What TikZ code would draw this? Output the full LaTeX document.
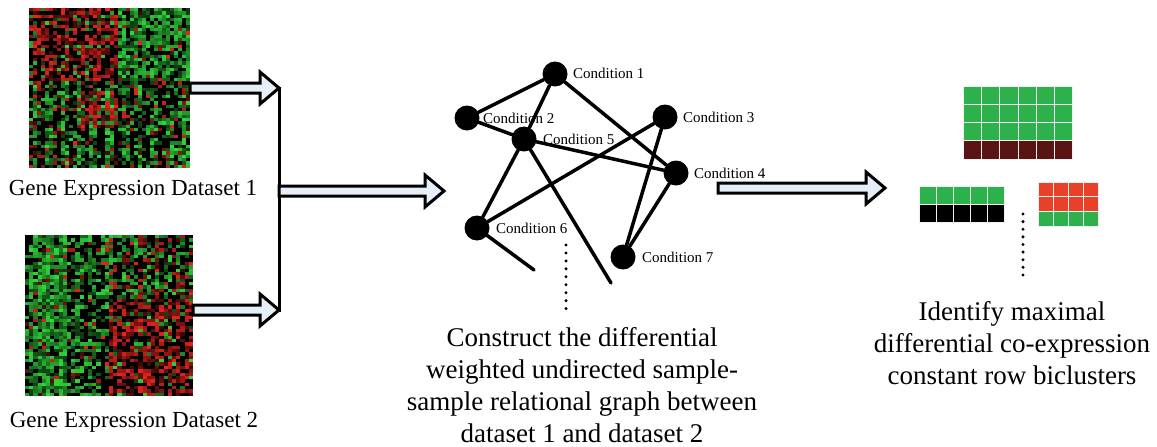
\documentclass[tikz,border=0pt]{standalone}
\usepackage{fontspec}
\setmainfont{Liberation Serif}
\usetikzlibrary{calc}

\definecolor{hmred}{RGB}{235,35,30}
\definecolor{hmgreen}{RGB}{50,215,60}
\definecolor{arrowfill}{RGB}{230,238,248}
\definecolor{bcgreen}{RGB}{45,178,75}
\definecolor{bcdark}{RGB}{90,20,20}
\definecolor{bcred}{RGB}{232,65,40}

% heatmap: x0, y0, width, height, P(red), P(red or green); 40 x 48 cells
\newcommand\heatmap[6]{%
  \fill[black] (#1,#2) rectangle ++(#3,#4);
  \foreach \i in {0,...,39}{
    \foreach \j in {0,...,47}{
      \pgfmathsetmacro\pr{#5}
      \pgfmathsetmacro\pg{#6}
      \pgfmathsetmacro\u{rnd}
      \pgfmathsetmacro\k{int(25+75*rnd)}
      \ifdim\u pt<\pr pt
        \fill[hmred!\k!black] ({#1+\i*#3/40},{#2+\j*#4/48}) rectangle ++({#3/40},{#4/48});
      \else\ifdim\u pt<\pg pt
        \fill[hmgreen!\k!black] ({#1+\i*#3/40},{#2+\j*#4/48}) rectangle ++({#3/40},{#4/48});
      \fi\fi
    }
  }
}

% bicluster: x0, y0, columns, cell width, cell height, row colours
\newcommand\bicluster[6]{%
  \foreach \rowcol [count=\rowno from 0] in {#6}{
    \foreach \q in {1,...,#3}{
      \fill[\rowcol, draw=white!88!gray, line width=1]
        ({#1+(\q-1)*#4},{#2+\rowno*#5}) rectangle ++(#4,#5);
    }
  }
}

% hollow block arrow between two points on one height
\newcommand\fatarrow[2]{%
  \path[fatarrow] let \p1=(#1), \p2=(#2) in
    (\x1,\y1+5pt) -- (\x2-19pt,\y1+5pt) -- (\x2-19pt,\y1+16pt)
    -- (\x2,\y1) -- (\x2-19pt,\y1-16pt) -- (\x2-19pt,\y1-5pt)
    -- (\x1,\y1-5pt) -- cycle;
}

\tikzset{
  fatarrow/.style={draw=black, line width=3, fill=arrowfill, line join=miter},
  cond/.style={circle, fill=black, minimum size=25, inner sep=0},
  condlabel/.style={anchor=base west, inner sep=0, font=\fontsize{15}{18}\selectfont},
  link/.style={line width=3.5, line cap=round},
  dotline/.style={line width=3.3, line cap=round},
  bigtext/.style={align=center, inner sep=0, font=\fontsize{27}{32}\selectfont},
  settext/.style={anchor=base, inner sep=0, font=\fontsize{23}{28}\selectfont}
}

\begin{document}
\begin{tikzpicture}[x=1pt, y=-1pt]
  \useasboundingbox (0,0) rectangle (1157,447);
  \pgfmathsetseed{3}

  % the two datasets
  \heatmap{29}{8}{161}{160}
    {(\i<22)*(\j<22)*0.5 + (\i>21)*(\j<22)*0.04 + (\j>21)*(0.12+0.4*(\i>11)*(\i<22)*(\j>24)*(\j<36))}
    {\pr + (\i<22)*(\j<22)*(0.12+0.1*sin(\i*131)) + (\i>21)*(\j<22)*(0.72+0.2*sin(\i*131)) + (\j>21)*(0.45+0.25*sin(\i*97))}
  \heatmap{25}{235}{168}{161}
    {(\i<20)*0.07 + (\i>19)*((\j<19)*0.22 + (\j>18)*0.55)}
    {\pr + (\i<20)*(0.45+0.4*(\i>1)*(\i<10)+0.15*sin(\i*97)) + (\i>19)*((\j<19)*(0.35+0.15*sin(\i*131))+(\j>18)*0.12)}
  \node[minimum width=161, minimum height=160, inner sep=0] (hm1) at (109.5,88) {};
  \node[minimum width=168, minimum height=161, inner sep=0] (hm2) at (109,315.5) {};
  \node[settext] (set1) at (133,195) {Gene Expression Dataset 1};
  \node[settext] (set2) at (134,427) {Gene Expression Dataset 2};

  % joining arrows
  \coordinate (jtop) at (279,88);
  \coordinate (jbot) at (279,310);
  \coordinate (jmid) at (279,191);
  \coordinate (gin) at (444,191);
  \fatarrow{hm1.east |- jtop}{jtop}
  \fatarrow{hm2.east |- jbot}{jbot}
  \draw[line width=3, line cap=rect] (jtop) -- (jbot);
  \fatarrow{jmid}{gin}

  % condition labels
  \node[condlabel] (l1) at (573,78) {Condition 1};
  \node[condlabel] (l2) at (483,123) {Condition 2};
  \node[condlabel] (l3) at (683,122) {Condition 3};
  \node[condlabel] (l4) at (694,178) {Condition 4};
  \node[condlabel] (l5) at (543,144) {Condition 5};
  \node[condlabel] (l6) at (496,233) {Condition 6};
  \node[condlabel] (l7) at (642,262) {Condition 7};

  % sample-sample graph
  \node[cond] (c1) at (555,74) {};
  \node[cond] (c2) at (467,118) {};
  \node[cond] (c3) at (665,117) {};
  \node[cond] (c4) at (676,173) {};
  \node[cond] (c5) at (524,139) {};
  \node[cond] (c6) at (477,228) {};
  \node[cond] (c7) at (623,257) {};
  \coordinate (e6) at (534,270);
  \coordinate (e5) at (611,283);
  \draw[link] (c1) -- (c2);
  \draw[link] (c1) -- (c5);
  \draw[link] (c1) -- (c4);
  \draw[link] (c2) -- (c5);
  \draw[link] (c5) -- (c4);
  \draw[link] (c5) -- (c6);
  \draw[link] (c3) -- (c6);
  \draw[link] (c3) -- (c7);
  \draw[link] (c4) -- (c7);
  \draw[link] (c6) -- (e6);
  \draw[link] (c5) -- (e5);
  \coordinate (gd1) at (566,245);
  \coordinate (gd2) at (566,309);
  \draw[dotline, dash pattern=on 0pt off 7.95pt] (gd1) -- (gd2);

  \node[bigtext, anchor=north] (gtext) at (582,327)
    {Construct the differential\\ weighted undirected sample-\\ sample relational graph between\\ dataset 1 and dataset 2};

  % to the biclusters
  \coordinate (gout) at (718,188);
  \coordinate (bin) at (885,188);
  \fatarrow{gout}{bin}

  \bicluster{963}{86}{6}{18.33}{18.25}{bcgreen,bcgreen,bcgreen,bcdark}
  \bicluster{919}{186}{5}{17}{18}{bcgreen,black}
  \bicluster{1038}{182}{4}{15}{14.7}{bcred,bcred,bcgreen}
  \coordinate (bd1) at (1023,214);
  \coordinate (bd2) at (1023,275);
  \draw[dotline, dash pattern=on 0pt off 7.62pt] (bd1) -- (bd2);

  \node[bigtext, anchor=north] (btext) at (1012,301)
    {Identify maximal\\ differential co-expression\\ constant row biclusters};
\end{tikzpicture}
\end{document}
